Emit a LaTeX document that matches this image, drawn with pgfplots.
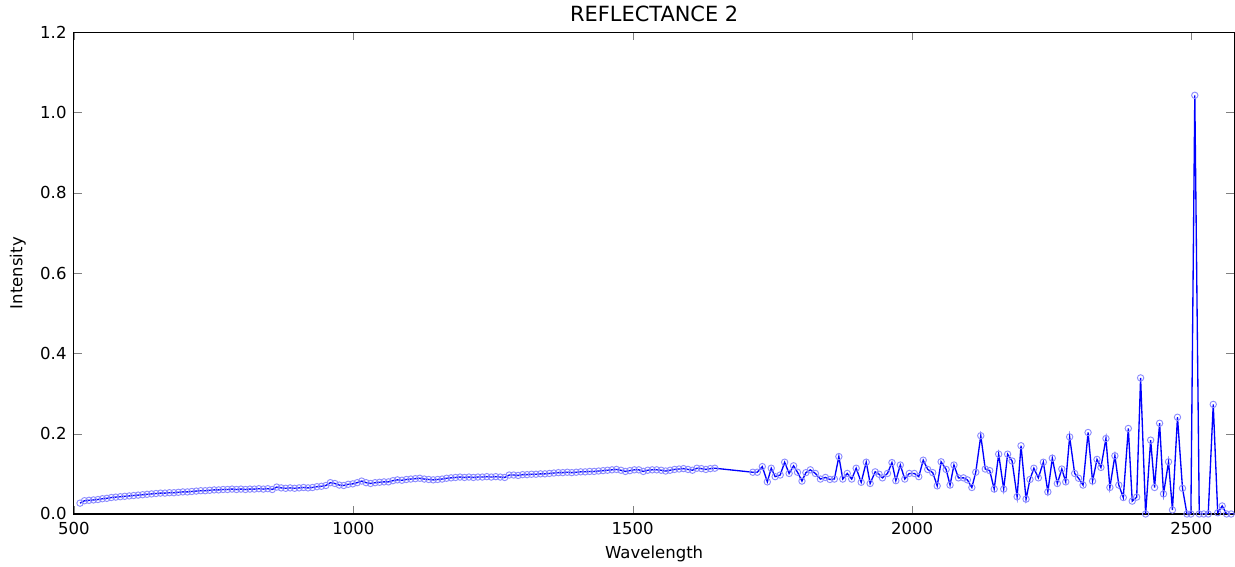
\documentclass[border={4pt 0pt 0pt 1.5pt}]{standalone}
\usepackage{fontspec}
\setmainfont{DejaVu Sans}
\usepackage{pgfplots}
\pgfplotsset{compat=1.18}

% reflectance spectrum
\pgfplotstableread{
x y
511 0.027
519 0.033
527 0.034
535 0.035
543 0.036
551 0.038
559 0.039
567 0.041
575 0.042
583 0.043
591 0.044
599 0.045
607 0.046
615 0.047
623 0.048
631 0.049
639 0.050
647 0.051
655 0.052
663 0.052
671 0.053
679 0.053
687 0.054
695 0.055
703 0.055
711 0.056
719 0.057
727 0.058
735 0.058
743 0.059
751 0.060
759 0.060
767 0.061
775 0.061
783 0.062
791 0.061
799 0.062
807 0.061
815 0.062
823 0.062
831 0.063
839 0.062
847 0.063
855 0.061
863 0.067
871 0.065
879 0.064
887 0.065
895 0.064
903 0.065
911 0.066
919 0.065
927 0.066
935 0.068
943 0.069
951 0.071
959 0.078
967 0.076
975 0.072
983 0.071
991 0.074
999 0.075
1007 0.078
1015 0.082
1023 0.078
1031 0.076
1039 0.078
1047 0.079
1055 0.080
1063 0.080
1071 0.083
1079 0.085
1087 0.084
1095 0.086
1103 0.087
1111 0.088
1119 0.089
1127 0.087
1135 0.086
1143 0.085
1151 0.086
1159 0.087
1167 0.089
1175 0.090
1183 0.091
1191 0.092
1199 0.091
1207 0.092
1215 0.091
1223 0.092
1231 0.092
1239 0.093
1247 0.092
1255 0.093
1263 0.092
1271 0.091
1279 0.097
1287 0.097
1295 0.096
1303 0.098
1311 0.098
1319 0.099
1327 0.099
1335 0.100
1343 0.100
1351 0.101
1359 0.102
1367 0.103
1375 0.103
1383 0.104
1391 0.103
1399 0.104
1407 0.105
1415 0.105
1423 0.106
1431 0.106
1439 0.107
1447 0.108
1455 0.109
1463 0.110
1471 0.111
1479 0.109
1487 0.106
1495 0.108
1503 0.110
1511 0.110
1519 0.106
1527 0.109
1535 0.110
1543 0.110
1551 0.109
1559 0.107
1567 0.109
1575 0.111
1583 0.112
1591 0.113
1599 0.111
1607 0.109
1615 0.114
1623 0.113
1631 0.111
1639 0.113
1647 0.114
1715 0.104
1723 0.104
1732 0.118
1741 0.080
1748 0.114
1755 0.093
1764 0.097
1772 0.129
1780 0.101
1788 0.120
1795 0.104
1803 0.082
1810 0.103
1818 0.110
1827 0.101
1836 0.087
1845 0.091
1853 0.086
1861 0.087
1869 0.143
1876 0.087
1884 0.101
1892 0.087
1900 0.114
1909 0.079
1918 0.129
1925 0.076
1934 0.105
1941 0.099
1947 0.090
1956 0.101
1964 0.128
1971 0.083
1979 0.122
1987 0.087
1995 0.101
2004 0.101
2012 0.093
2020 0.134
2028 0.111
2037 0.103
2045 0.070
2052 0.130
2061 0.111
2068 0.072
2075 0.122
2083 0.090
2092 0.090
2099 0.085
2107 0.066
2114 0.104
2123 0.195
2131 0.112
2139 0.108
2147 0.062
2155 0.149
2164 0.062
2171 0.149
2179 0.132
2188 0.043
2195 0.170
2204 0.037
2211 0.086
2218 0.114
2226 0.090
2235 0.129
2243 0.055
2251 0.139
2260 0.076
2268 0.112
2275 0.080
2282 0.192
2291 0.101
2298 0.089
2306 0.072
2315 0.203
2323 0.082
2331 0.136
2338 0.116
2347 0.188
2354 0.066
2363 0.145
2370 0.072
2378 0.041
2387 0.213
2394 0.032
2402 0.042
2409 0.339
2418 0.000
2427 0.184
2434 0.066
2443 0.226
2450 0.050
2459 0.130
2466 0.010
2475 0.241
2484 0.064
2492 0.000
2499 0.000
2506 1.043
2514 0.000
2522 0.000
2530 0.000
2539 0.273
2547 0.003
2555 0.020
2563 0.000
2571 0.000
2579 0.000
}\spectrum

\begin{document}
\begin{tikzpicture}
\begin{axis}[
  scale only axis,
  width=871pt, height=361.5pt,
  xmin=500, xmax=2577,
  ymin=0, ymax=1.2,
  xtick={500,1000,1500,2000,2500},
  ytick={0,0.2,0.4,0.6,0.8,1.0,1.2},
  /pgf/number format/assume math mode=true,
  xticklabel style={/pgf/number format/1000 sep={}, yshift=-3pt},
  yticklabel style={/pgf/number format/fixed, /pgf/number format/fixed zerofill,
    /pgf/number format/precision=1, xshift=-2pt},
  tick label style={font=\fontsize{12.4}{14}\selectfont},
  label style={font=\fontsize{12.4}{14}\selectfont},
  xlabel style={yshift=-1pt},
  ylabel style={yshift=4pt},
  title style={font=\fontsize{15.7}{18}\selectfont, yshift=-2pt},
  title={REFLECTANCE 2},
  xlabel={Wavelength},
  ylabel={Intensity},
  tick align=inside,
  major tick length=6pt,
  axis line style={line width=0.8pt},
  clip=true,
]
\addplot[blue, line width=1pt, mark=o, mark size=2.4pt,
  mark options={draw=blue!45!white, fill=white, line width=0.7pt}]
  table[x=x, y=y] {\spectrum};
\end{axis}
\end{tikzpicture}
\end{document}
